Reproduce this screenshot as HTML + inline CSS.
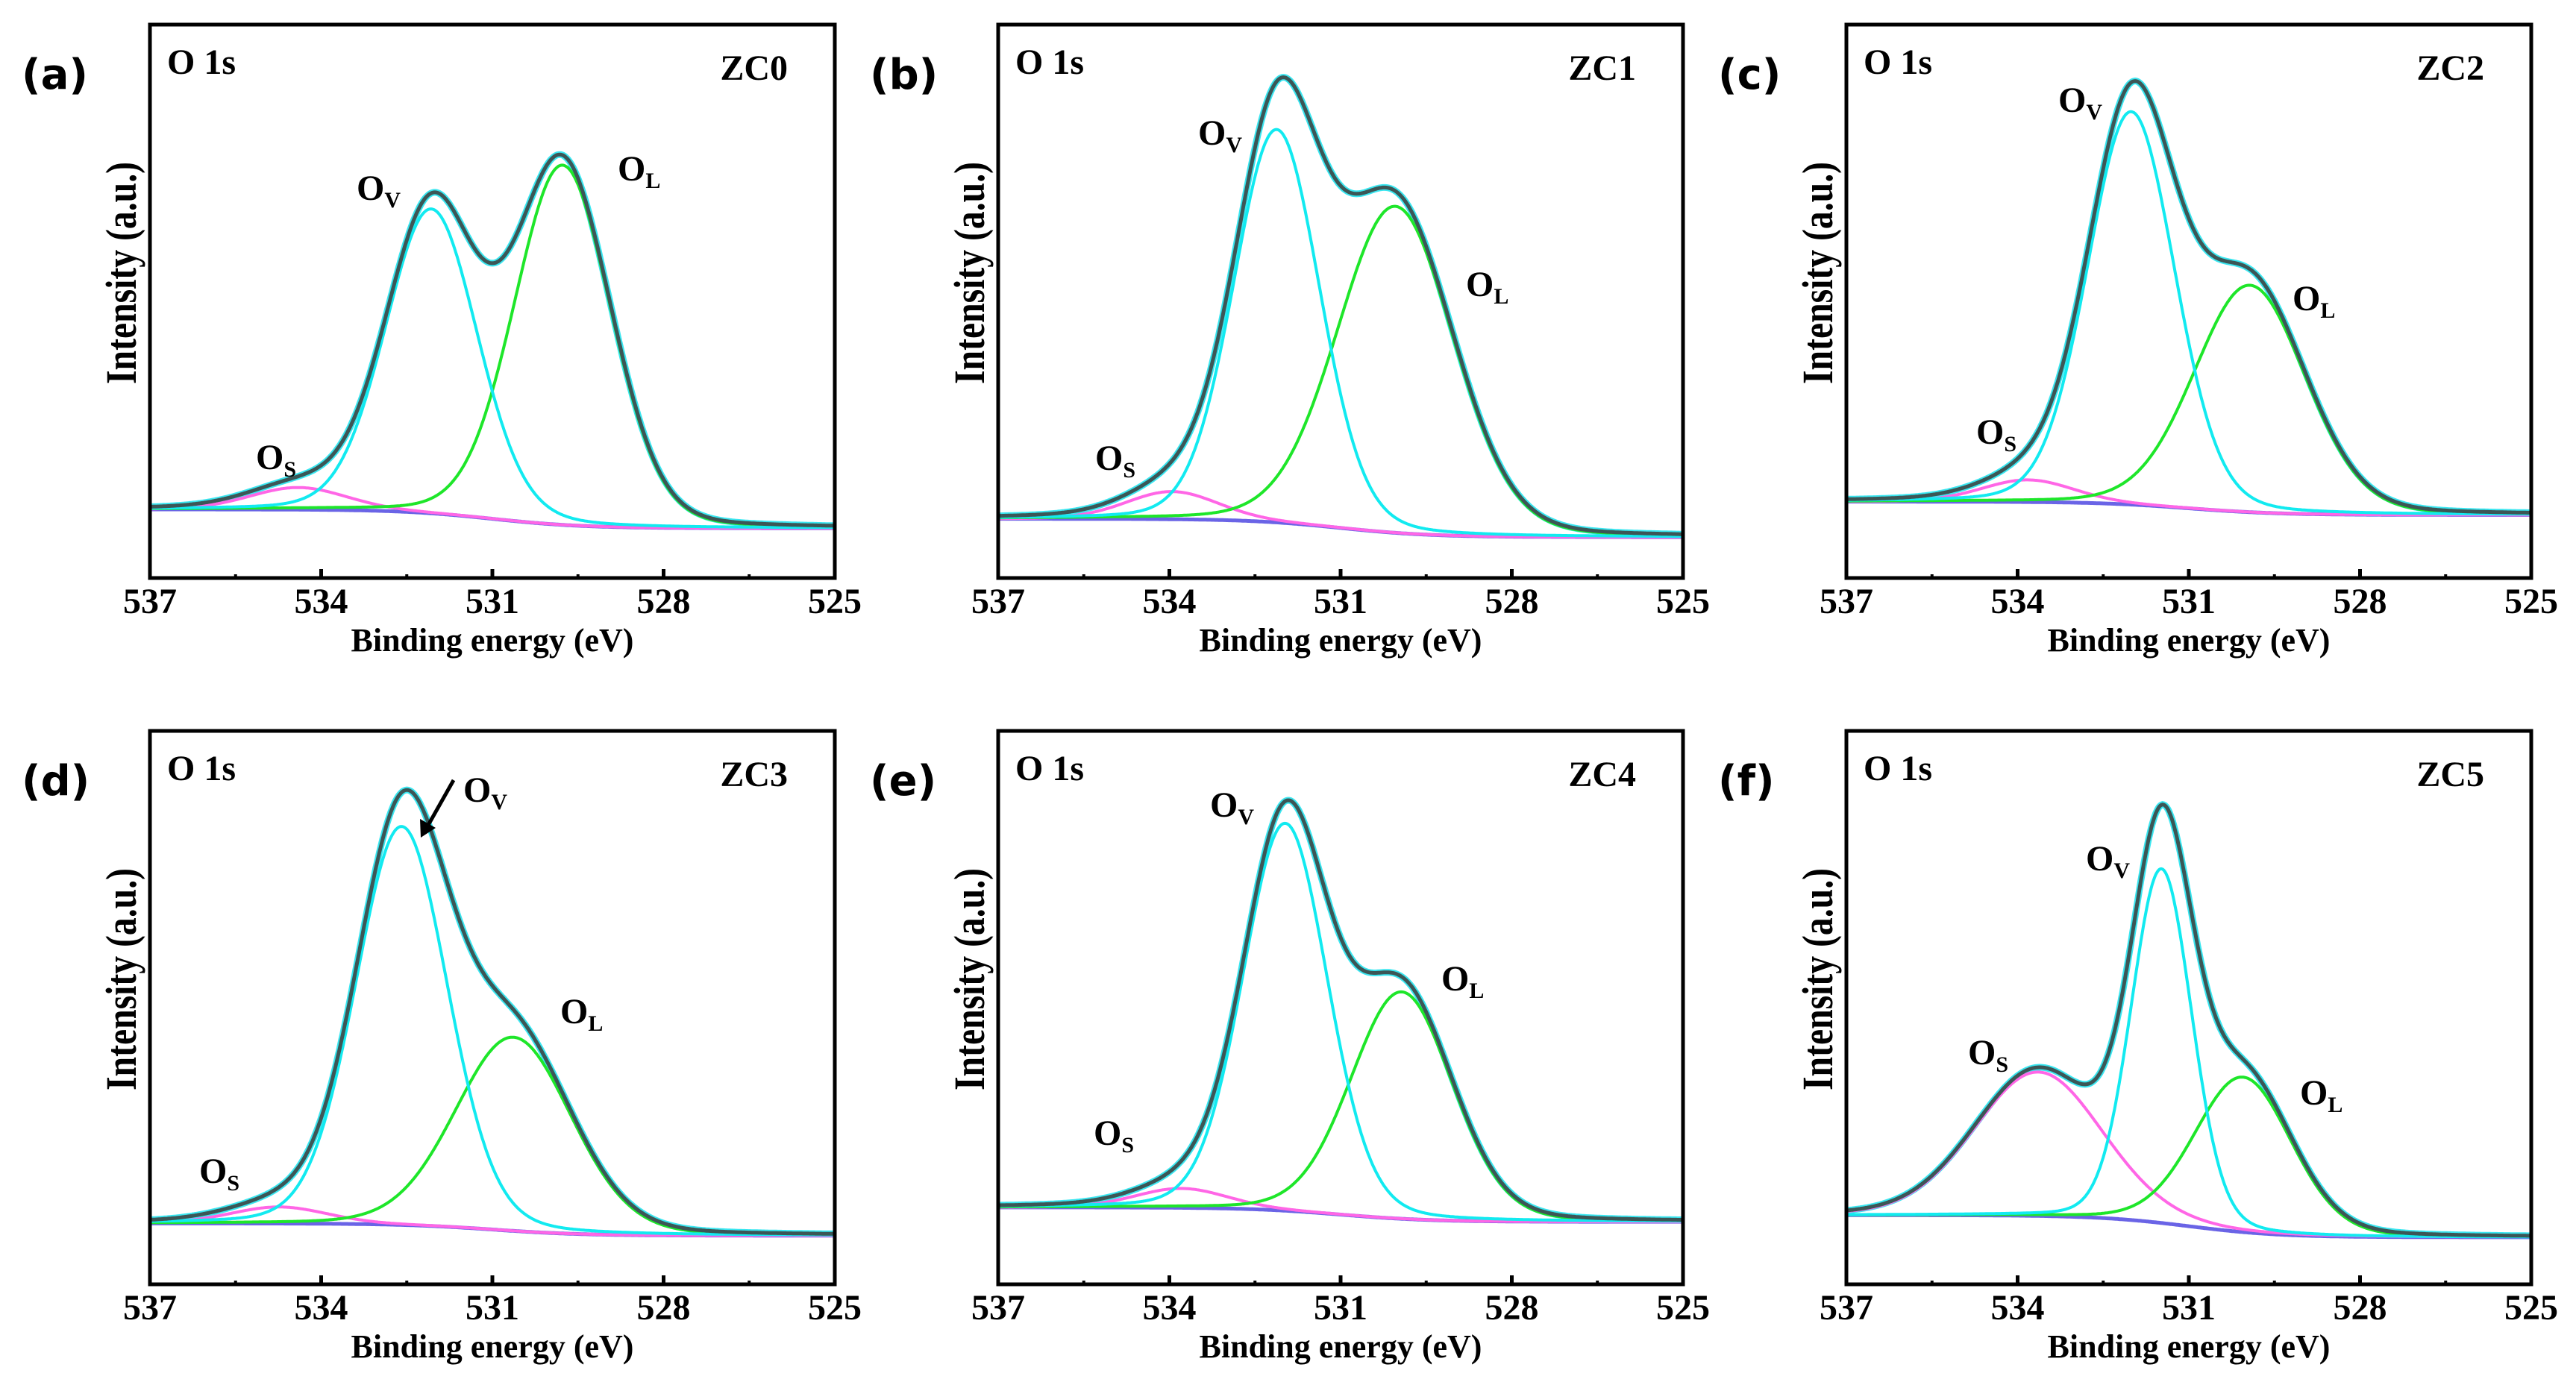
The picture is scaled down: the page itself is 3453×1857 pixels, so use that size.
<!DOCTYPE html>
<html><head><meta charset="utf-8"><style>
html,body{margin:0;padding:0;background:#fff;}
svg{display:block;}
text{font-family:"Liberation Serif",serif;font-weight:bold;fill:#000;}
</style></head><body>
<svg id="fig" width="3453" height="1857" viewBox="0 0 3453 1857" xmlns="http://www.w3.org/2000/svg"></svg>
<script>
// ---- data (fractions of plot height; energies in eV) ----
const panelLetters = ["(a)","(b)","(c)","(d)","(e)","(f)"];
const sampleNames = ["ZC0","ZC1","ZC2","ZC3","ZC4","ZC5"];
const xTicks = [537,534,531,528,525];
const baseLeft  = [0.124,0.107,0.138,0.110,0.139,0.125];
const baseRight = [0.090,0.074,0.114,0.088,0.113,0.085];
const ovCenter = [532.07,532.12,532.01,532.59,531.97,531.48];
const ovAmp    = [0.55,0.71,0.71,0.72,0.70,0.64];
const ovFwhm   = [1.90,1.78,1.80,1.90,1.75,1.25];
const olCenter = [529.77,530.04,529.93,530.63,529.93,530.05];
const olAmp    = [0.65,0.59,0.41,0.35,0.41,0.28];
const olFwhm   = [2.00,2.40,2.30,2.40,2.10,2.00];
const osCenter = [534.4,533.95,533.82,534.74,533.79,533.64];
const osAmp    = [0.04,0.05,0.04,0.03,0.035,0.26];
const osFwhm   = [2.0,1.9,1.9,2.0,1.9,2.65];
const lorentzFrac = 0.12;
// ---- layout ----
const colX=[201,1338,2475], rowY=[33,980], W=918, H=742;
const labelPos = { // [x,cy] relative to plot box
 ov:[[277,219],[268,145],[284,101],[420,79],[284,99],[321,171]],
 ol:[[627,193],[627,348],[598,367],[550,376],[594,332],[608,485]],
 os:[[142,580],[130,581],[174,546],[66,590],[128,539],[163,431]]
};
const NS="http://www.w3.org/2000/svg";
const svg=document.getElementById('fig');
function mk(tag,attrs,parent){const e=document.createElementNS(NS,tag);for(const k in attrs)e.setAttribute(k,attrs[k]);(parent||svg).appendChild(e);return e;}
function peak(x,c,a,f){const s=f/2.3548;const G=Math.exp(-0.5*((x-c)/s)**2);const L=1/(1+((x-c)/(f/2))**2);return a*((1-lorentzFrac)*G+lorentzFrac*L);}

for(let i=0;i<6;i++){
  const x0=colX[i%3], y0=rowY[Math.floor(i/3)];
  const g=mk('g',{});
  
  
  const xs=e=>x0+(537-e)/12*W;
  const ys=v=>y0+H-v*H;
  const base=e=>baseRight[i]+(baseLeft[i]-baseRight[i])/(1+Math.exp(-(e-531)/0.8));
  const comps=[
    e=>peak(e,osCenter[i],osAmp[i],osFwhm[i]),
    e=>peak(e,olCenter[i],olAmp[i],olFwhm[i]),
    e=>peak(e,ovCenter[i],ovAmp[i],ovFwhm[i])
  ];
  const path=fn=>{let d='';for(let k=0;k<=600;k++){const e=537-k*12/600;d+=(k?'L':'M')+xs(e).toFixed(1)+','+ys(fn(e)).toFixed(1);}return d;};
  const env=e=>base(e)+comps[0](e)+comps[1](e)+comps[2](e);
  let p;
  p=mk('path',{d:path(env),fill:'none',stroke:'#3ae6f0','stroke-width':9},g);
  
  p=mk('path',{d:path(base),fill:'none',stroke:'#6a64e6','stroke-width':5},g);
  
  p=mk('path',{d:path(e=>base(e)+comps[0](e)),fill:'none',stroke:'#ff66e6','stroke-width':4},g);
  
  p=mk('path',{d:path(e=>base(e)+comps[1](e)),fill:'none',stroke:'#1ee62a','stroke-width':4},g);
  
  p=mk('path',{d:path(e=>base(e)+comps[2](e)),fill:'none',stroke:'#12eaf0','stroke-width':4},g);
  
  p=mk('path',{d:path(env),fill:'none',stroke:'#3c5656','stroke-width':5},g);
  
  // frame
  p=mk('rect',{x:x0,y:y0,width:W,height:H,fill:'none',stroke:'#000','stroke-width':5},g);
  
  // ticks
  for(let e=537;e>=525;e-=1.5){
    const major=xTicks.includes(e);
    const t=mk('line',{x1:xs(e),x2:xs(e),y1:y0+H,y2:y0+H-(major?12:5),stroke:'#000','stroke-width':major?5:4},g);
    
  }
  xTicks.forEach(v=>{
    const t=mk('text',{x:xs(v),y:y0+H+47,'text-anchor':'middle','font-size':48},g);
    t.textContent=v;
    
  });
  let t=mk('text',{x:x0+W/2,y:y0+H+98,'text-anchor':'middle','font-size':44},g);
  t.textContent='Binding energy (eV)';
  
  const cy=y0+H/2-38;
  t=mk('text',{x:0,y:0,'text-anchor':'middle','font-size':58,textLength:298,lengthAdjust:'spacingAndGlyphs',transform:`translate(${x0-19},${cy}) rotate(-90)`},g);
  t.textContent='Intensity (a.u.)';
  
  t=mk('text',{x:x0-172,y:y0+86,'font-size':56,style:'font-family:"DejaVu Sans",sans-serif'},g);
  t.textContent=panelLetters[i];
  
  t=mk('text',{x:x0+23,y:y0+66,'font-size':48},g);
  t.textContent='O 1s';
  
  t=mk('text',{x:x0+W-63,y:y0+74,'text-anchor':'end','font-size':48},g);
  t.textContent=sampleNames[i];
  
  [['ov','V'],['ol','L'],['os','S']].forEach(([k,s])=>{
    const [lx,ly]=labelPos[k][i];
    const tt=mk('text',{x:x0+lx,y:y0+ly+16,'font-size':48},g);
    
    
    tt.appendChild(document.createTextNode('O'));
    const sp=mk('tspan',{'font-size':30,dy:10},tt);sp.textContent=s;
  });
  if(i===3){
    const a=mk('line',{x1:x0+407,y1:y0+66,x2:x0+372,y2:y0+128,stroke:'#000','stroke-width':5},g);
    
    const h=mk('polygon',{points:`${x0+363},${y0+143} ${x0+362},${y0+118} ${x0+383},${y0+130}`,fill:'#000'},g);
    
  }
}
</script>
</body></html>
